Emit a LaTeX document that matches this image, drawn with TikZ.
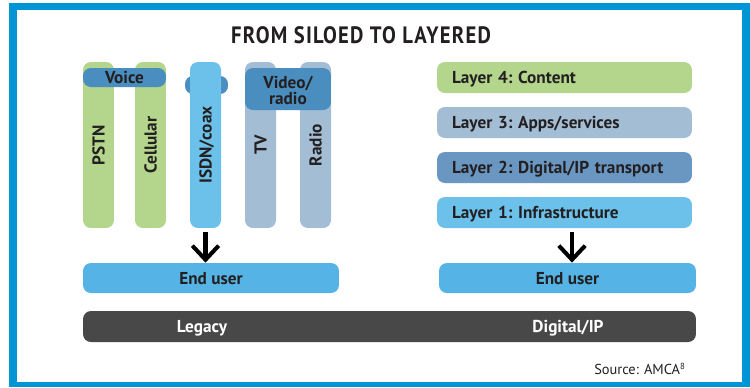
\documentclass[tikz,border=0pt]{standalone}
\usepackage{fontspec}
\setmainfont{PT Sans}
\newfontfamily\titlefont[LetterSpace=6]{PT Sans}
\usetikzlibrary{arrows.meta}

\definecolor{frameblue}{HTML}{0096D6}
\definecolor{inkdark}{HTML}{231F20}
\definecolor{voicegreen}{HTML}{B3D68C}
\definecolor{siloblue}{HTML}{6BC1EA}
\definecolor{silogrey}{HTML}{A3BDD4}
\definecolor{tabblue}{HTML}{4A8EC0}
\definecolor{transport}{HTML}{6A97C2}
\definecolor{userblue}{HTML}{55B4E5}
\definecolor{basegrey}{HTML}{484848}

\tikzset{
  label/.style={inner sep=0pt, text height=6.9pt, text depth=0pt,
    font=\frenchspacing\bfseries\fontsize{9.8}{10}\selectfont},
  pill/.style={label, rounded corners=4.5pt, text=inkdark},
  silo/.style={pill, rotate=90, minimum width=3.32cm, minimum height=.62cm},
  layer/.style={pill, minimum width=5.1cm, minimum height=.62cm,
    text width=4.5cm, align=left},
  bigarrow/.style={line width=2.3pt, -{Straight Barb[length=8pt,width=15pt]}},
}

\begin{document}
\begin{tikzpicture}[x=0.02cm,y=-0.02cm]
\useasboundingbox (0,0) rectangle (750,387);
\fill[frameblue] (9,3) rectangle (750,387);
\fill[white] (17,10) rectangle (742,382);

\node[text=inkdark, font=\titlefont\bfseries\fontsize{13.5}{14}\selectfont] (title) at (361,35)
  {\scalebox{.87}[1]{FROM SILOED TO LAYERED}};

% legacy silos
\node[pill, fill=tabblue, minimum width=.86cm, minimum height=.36cm] (isdntab) at (206.5,85) {};
\node[silo, fill=voicegreen] (pstn) at (98.5,145) {PSTN};
\node[silo, fill=voicegreen] (cell) at (150.5,145) {Cellular};
\node[silo, fill=siloblue] (isdn) at (205.5,145) {ISDN/coax};
\node[silo, fill=silogrey] (tv) at (260.5,145) {TV};
\node[silo, fill=silogrey] (radio) at (315.5,145) {Radio};
\node[pill, fill=tabblue, minimum width=1.66cm, minimum height=.38cm] (voice) at (124.5,77.5) {Voice};
\node[pill, fill=tabblue, minimum width=1.72cm, minimum height=.84cm] (video) at (288,89) {};
\node[text=inkdark, align=center, inner sep=0pt,
  font=\bfseries\fontsize{9.8}{9.3}\selectfont] (videotxt) at (288,90.5) {Video/\\radio};

% layers
\node[layer, fill=voicegreen] (lay4) at (564.5,77.5) {Layer 4: Content};
\node[layer, fill=silogrey] (lay3) at (564.5,122.5) {Layer 3: Apps/services};
\node[layer, fill=transport] (lay2) at (564.5,167.5) {Layer 2: Digital/IP transport};
\node[layer, fill=siloblue] (lay1) at (564.5,212.5) {Layer 1: Infrastructure};

% end users
\node[pill, fill=userblue, minimum width=5.12cm, minimum height=.6cm] (userL) at (211,278) {End user};
\node[pill, fill=userblue, minimum width=5.14cm, minimum height=.6cm] (userR) at (567.5,278) {End user};

\draw[bigarrow] ([yshift=-.08cm]isdn.west) -- (isdn.west |- userL.north);
\draw[bigarrow] ([xshift=.15cm,yshift=-.08cm]lay1.south) -- ([xshift=.15cm]lay1.south |- userR.north);

\node[pill, fill=basegrey, minimum width=12.26cm, minimum height=.62cm] (base) at (389.5,326.5) {};
\node[label, text=white] (legacy) at (202,326) {Legacy};
\node[label, text=white] (digital) at (568,326) {Digital/IP};

\node[anchor=east, text=inkdark, font=\fontsize{8.2}{9}\selectfont] (source) at (692,369) {Source: AMCA\textsuperscript{\tiny 8}};
\end{tikzpicture}
\end{document}
